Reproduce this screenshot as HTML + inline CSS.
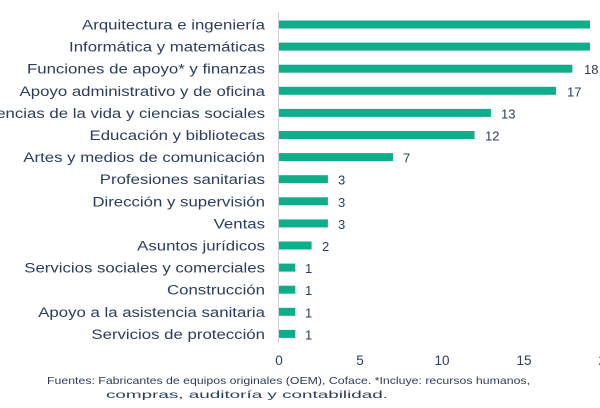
<!DOCTYPE html>
<html><head><meta charset="utf-8"><style>
body{margin:0;width:600px;height:403px;background:#fff;overflow:hidden;font-family:"Liberation Sans",sans-serif;}
</style></head><body>
<svg width="600" height="403" xmlns="http://www.w3.org/2000/svg" font-family="Liberation Sans, sans-serif">
<line x1="278.5" y1="12" x2="278.5" y2="343" stroke="#d0d0d0" stroke-width="1"/>
<g fill="#0fae8a">
<rect x="279" y="20.5" width="311" height="8"/>
<rect x="279" y="42.6" width="311" height="8"/>
<rect x="279" y="64.7" width="293.4" height="8"/>
<rect x="279" y="86.8" width="277.1" height="8"/>
<rect x="279" y="108.9" width="211.9" height="8"/>
<rect x="279" y="131" width="195.6" height="8"/>
<rect x="279" y="153.1" width="114.1" height="8"/>
<rect x="279" y="175.2" width="48.9" height="8"/>
<rect x="279" y="197.3" width="48.9" height="8"/>
<rect x="279" y="219.4" width="48.9" height="8"/>
<rect x="279" y="241.5" width="32.6" height="8"/>
<rect x="279" y="263.6" width="16.3" height="8"/>
<rect x="279" y="285.7" width="16.3" height="8"/>
<rect x="279" y="307.8" width="16.3" height="8"/>
<rect x="279" y="329.9" width="16.3" height="8"/>
</g>
<g fill="#2a3d5c" font-size="14" text-anchor="end" transform="translate(265,0) scale(1.2,1) translate(-265,0)">
<text x="265" y="29.5">Arquitectura e ingeniería</text>
<text x="265" y="51.6">Informática y matemáticas</text>
<text x="265" y="73.7">Funciones de apoyo* y finanzas</text>
<text x="265" y="95.8">Apoyo administrativo y de oficina</text>
<text x="265" y="117.9">Ciencias de la vida y ciencias sociales</text>
<text x="265" y="140">Educación y bibliotecas</text>
<text x="265" y="162.1">Artes y medios de comunicación</text>
<text x="265" y="184.2">Profesiones sanitarias</text>
<text x="265" y="206.3">Dirección y supervisión</text>
<text x="265" y="228.4">Ventas</text>
<text x="265" y="250.5">Asuntos jurídicos</text>
<text x="265" y="272.6">Servicios sociales y comerciales</text>
<text x="265" y="294.7">Construcción</text>
<text x="265" y="316.8">Apoyo a la asistencia sanitaria</text>
<text x="265" y="338.9">Servicios de protección</text>
</g>
<g fill="#2a3d5c" font-size="13">
<text x="584" y="74.2">18</text>
<text x="567" y="96.3">17</text>
<text x="501" y="118.4">13</text>
<text x="485" y="140.5">12</text>
<text x="403" y="162.6">7</text>
<text x="338" y="184.7">3</text>
<text x="338" y="206.8">3</text>
<text x="338" y="228.9">3</text>
<text x="322" y="251">2</text>
<text x="305" y="273.1">1</text>
<text x="305" y="295.2">1</text>
<text x="305" y="317.3">1</text>
<text x="305" y="339.4">1</text>
</g>
<g fill="#2a3d5c" font-size="13.5" text-anchor="middle">
<text x="279" y="365">0</text>
<text x="360" y="365">5</text>
<text x="442" y="365">10</text>
<text x="524" y="365">15</text>
<text x="606" y="365">20</text>
</g>
<g fill="#2a3d5c" font-size="10.5">
<text x="47" y="384" textLength="483" lengthAdjust="spacingAndGlyphs">Fuentes: Fabricantes de equipos originales (OEM), Coface. *Incluye: recursos humanos,</text>
<text x="106" y="398" textLength="282" lengthAdjust="spacingAndGlyphs">compras, auditoría y contabilidad.</text>
</g>
</svg>
</body></html>
